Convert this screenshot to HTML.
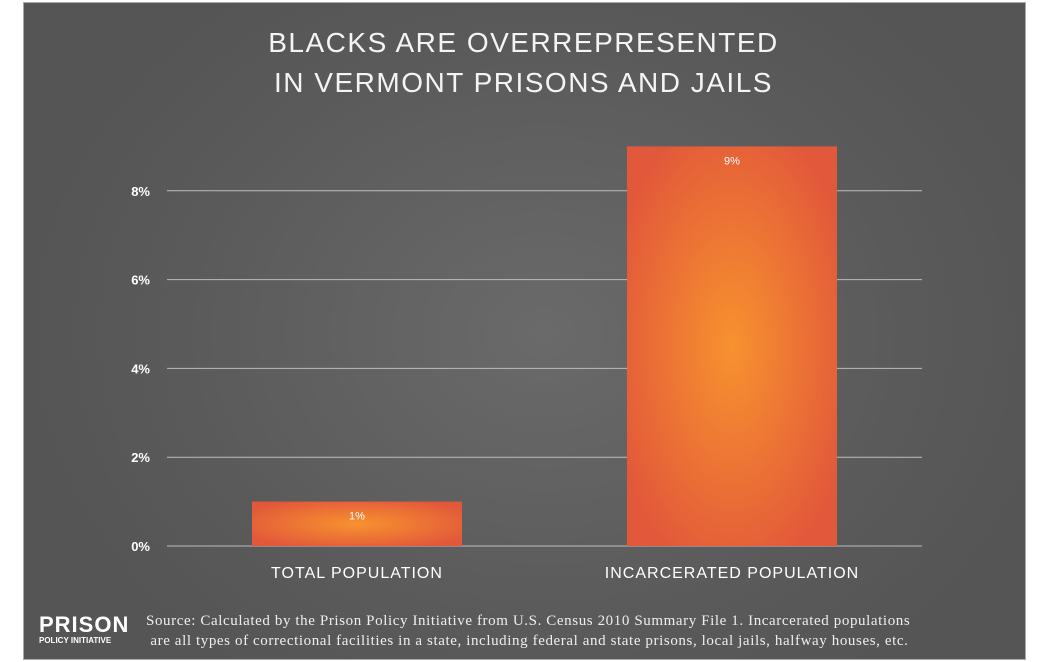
<!DOCTYPE html>
<html><head><meta charset="utf-8"><style>
body{margin:0;background:#fff;width:1048px;height:662px;overflow:hidden;position:relative;font-family:"Liberation Sans",sans-serif}
#panel{position:absolute;left:23px;top:2px;width:1001px;height:656px;border:1px solid #aaa;background:radial-gradient(ellipse 520px 420px at 520px 330px,#6a6a6a 0%,#5a5a5a 70%,#555 100%)}
.t{position:absolute;color:#fff}
</style></head><body>
<div id="panel"></div>
<div class="t" style="left:23px;width:1001px;top:23px;text-align:center;font-size:28px;letter-spacing:1.5px;line-height:40px;color:#f4f4f4">BLACKS ARE OVERREPRESENTED<br>IN VERMONT PRISONS AND JAILS</div>
<svg id="chart" width="1048" height="662" style="position:absolute;left:0;top:0">
<defs>
<radialGradient id="g" cx="50%" cy="50%" r="60%"><stop offset="0" stop-color="#f7922f"/><stop offset="1" stop-color="#e2583a"/></radialGradient>
</defs>
<g id="grid"></g><g id="bars"></g><g id="labels"></g>
</svg>
<div class="t" style="left:146px;top:611px;font-family:'Liberation Serif',serif;font-size:15px;letter-spacing:0.6px;line-height:20px;color:#eee;white-space:nowrap">Source: Calculated by the Prison Policy Initiative from U.S. Census 2010 Summary File 1. Incarcerated populations<br>&nbsp;are all types of correctional facilities in a state, including federal and state prisons, local jails, halfway houses, etc.</div>
<div class="t" style="left:39px;top:614px;font-weight:bold;font-size:22px;letter-spacing:1px;line-height:22px">PRISON<div style="font-size:8px;letter-spacing:0;line-height:10px">POLICY INITIATIVE</div></div>
<script>
const categories=["TOTAL POPULATION","INCARCERATED POPULATION"];
const values=[1,9];
const valueLabels=["1%","9%"];
const ticks=[0,2,4,6,8];
const tickLabels=["0%","2%","4%","6%","8%"];
const ns="http://www.w3.org/2000/svg";
const y0=546,pxPer=44.4;
const y=v=>y0-v*pxPer;
const barX=[252,627],barW=210;
function mk(tag,attrs,parent){const e=document.createElementNS(ns,tag);for(const k in attrs)e.setAttribute(k,attrs[k]);parent.appendChild(e);return e;}
const grid=document.getElementById('grid'),bars=document.getElementById('bars'),labels=document.getElementById('labels');
ticks.forEach((t,i)=>{
  const l=mk('line',{x1:167,x2:922,y1:y(t),y2:y(t),stroke:'#bdbdbd','stroke-width':1},grid);
  
  
  const tx=mk('text',{x:150,y:y(t)+5,'text-anchor':'end',fill:'#fff','font-size':13,'font-weight':'bold'},labels);
  tx.textContent=tickLabels[i];
  
  
});
values.forEach((v,i)=>{
  const r=mk('rect',{x:barX[i],y:y(v),width:barW,height:y0-y(v),fill:'url(#g)'},bars);
  
  
  const vl=mk('text',{x:barX[i]+barW/2,y:y(v)+18,'text-anchor':'middle',fill:'#fff','font-size':11},labels);
  vl.textContent=valueLabels[i];
  
  
  const cl=mk('text',{x:barX[i]+barW/2,y:578,'text-anchor':'middle',fill:'#fff','font-size':16,'letter-spacing':1},labels);
  cl.textContent=categories[i];
  
  
});
</script>
</body></html>
